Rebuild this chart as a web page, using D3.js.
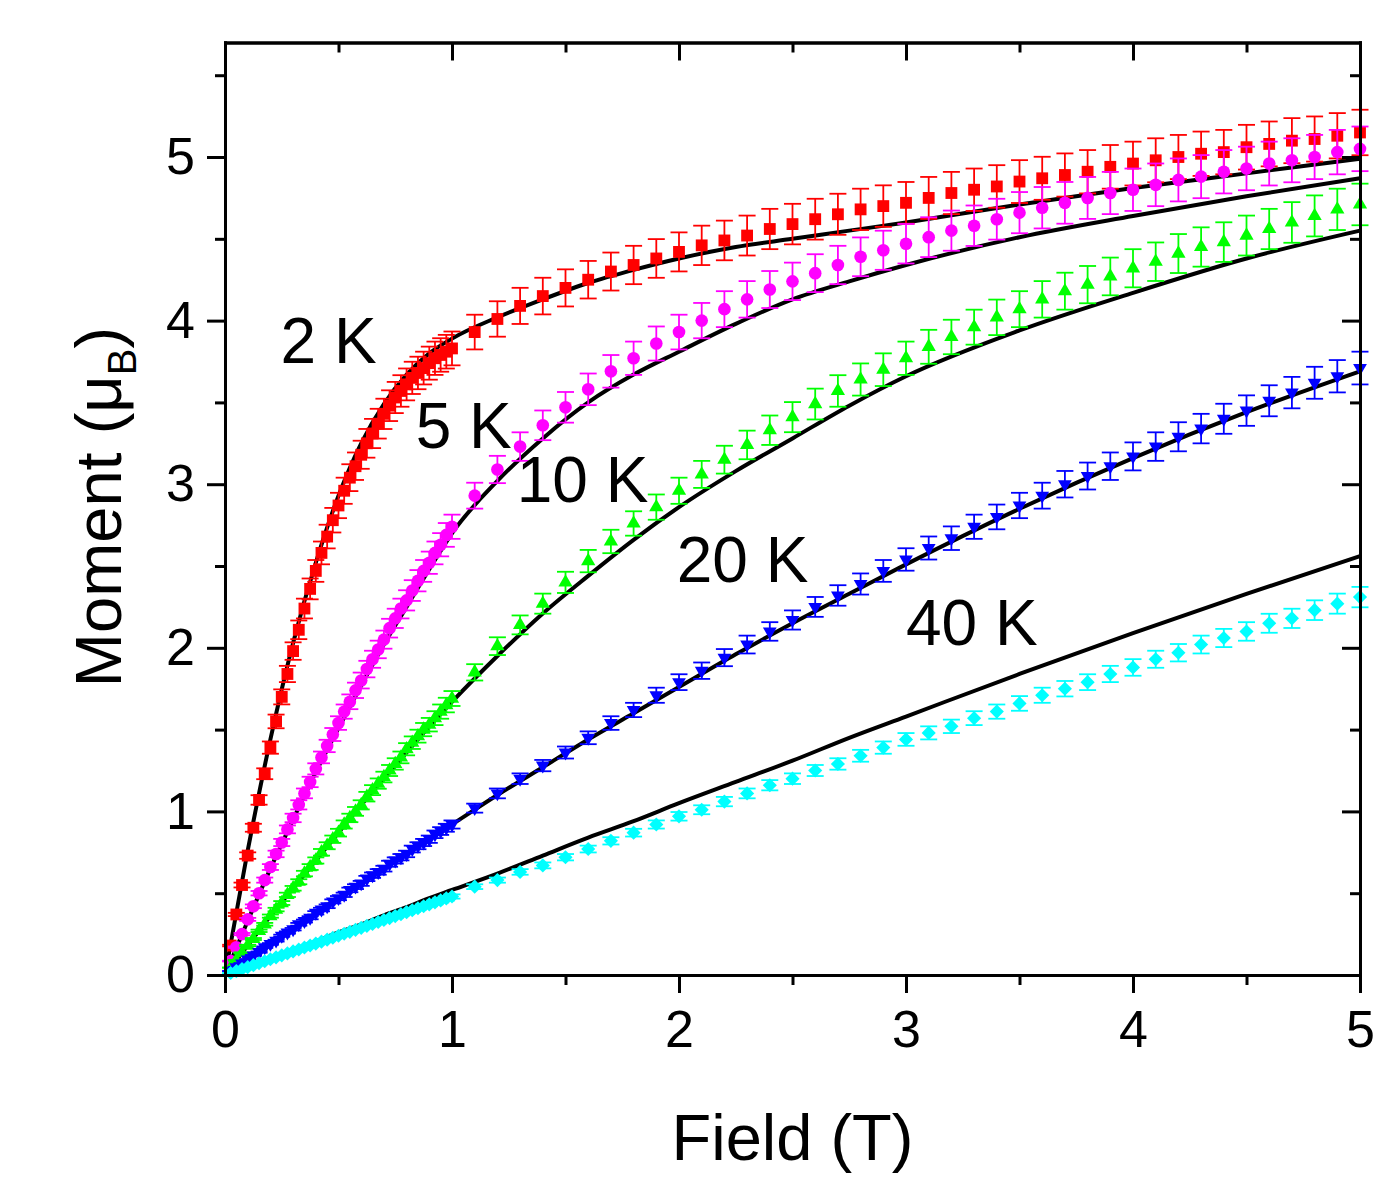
<!DOCTYPE html>
<html>
<head>
<meta charset="utf-8">
<script src="https://cdn.jsdelivr.net/npm/d3@7"></script>
<style>
  body { margin: 0; background: #fff; }
  text { font-family: "Liberation Sans", Arial, sans-serif; }
</style>
</head>
<body>
<div id="chart"></div>
<script>
// M(H) curves at several temperatures, data with error bars + black fit lines

// measured field points (T)
const field = [
  0.025, 0.05, 0.075, 0.1, 0.125, 0.15, 0.175, 0.2, 0.225, 0.25,
  0.275, 0.3, 0.325, 0.35, 0.375, 0.4, 0.425, 0.45, 0.475, 0.5,
  0.525, 0.55, 0.575, 0.6, 0.625, 0.65, 0.675, 0.7, 0.725, 0.75,
  0.775, 0.8, 0.825, 0.85, 0.875, 0.9, 0.925, 0.95, 0.975, 1.0,
  1.1, 1.2, 1.3, 1.4, 1.5, 1.6, 1.7, 1.8, 1.9, 2.0,
  2.1, 2.2, 2.3, 2.4, 2.5, 2.6, 2.7, 2.8, 2.9, 3.0,
  3.1, 3.2, 3.3, 3.4, 3.5, 3.6, 3.7, 3.8, 3.9, 4.0,
  4.1, 4.2, 4.3, 4.4, 4.5, 4.6, 4.7, 4.8, 4.9, 5.0
];

// moments (muB)
const m2K = [
  0.18, 0.37, 0.55, 0.73, 0.90, 1.07, 1.23, 1.39, 1.55, 1.70,
  1.84, 1.98, 2.11, 2.24, 2.36, 2.47, 2.58, 2.68, 2.78, 2.87,
  2.96, 3.04, 3.11, 3.18, 3.25, 3.31, 3.37, 3.43, 3.48, 3.53,
  3.57, 3.61, 3.65, 3.68, 3.71, 3.74, 3.77, 3.79, 3.81, 3.83,
  3.93, 4.01, 4.09, 4.15, 4.20, 4.25, 4.30, 4.34, 4.38, 4.42,
  4.46, 4.49, 4.52, 4.56, 4.59, 4.62, 4.65, 4.68, 4.70, 4.72,
  4.75, 4.78, 4.80, 4.82, 4.85, 4.87, 4.89, 4.91, 4.94, 4.96,
  4.98, 5.00, 5.02, 5.03, 5.06, 5.08, 5.10, 5.11, 5.13, 5.15
];
const m5K = [
  0.085, 0.17, 0.25, 0.34, 0.42, 0.50, 0.58, 0.66, 0.74, 0.81,
  0.89, 0.96, 1.04, 1.11, 1.18, 1.26, 1.33, 1.40, 1.47, 1.54,
  1.61, 1.67, 1.74, 1.80, 1.87, 1.93, 1.99, 2.05, 2.12, 2.18,
  2.24, 2.29, 2.35, 2.41, 2.47, 2.52, 2.58, 2.63, 2.69, 2.74,
  2.93, 3.09, 3.23, 3.36, 3.47, 3.58, 3.69, 3.77, 3.86, 3.93,
  4.00, 4.07, 4.13, 4.19, 4.24, 4.29, 4.34, 4.39, 4.43, 4.47,
  4.51, 4.55, 4.58, 4.62, 4.66, 4.69, 4.72, 4.75, 4.78, 4.80,
  4.83, 4.86, 4.88, 4.91, 4.93, 4.96, 4.98, 5.00, 5.03, 5.05
];
const m10K = [
  0.045, 0.09, 0.135, 0.18, 0.22, 0.27, 0.31, 0.36, 0.40, 0.44,
  0.49, 0.53, 0.57, 0.62, 0.66, 0.70, 0.75, 0.79, 0.83, 0.87,
  0.92, 0.96, 1.00, 1.04, 1.09, 1.13, 1.17, 1.21, 1.25, 1.29,
  1.33, 1.38, 1.42, 1.46, 1.50, 1.53, 1.57, 1.61, 1.65, 1.69,
  1.85, 2.01, 2.14, 2.27, 2.40, 2.53, 2.65, 2.76, 2.86, 2.96,
  3.06, 3.15, 3.24, 3.33, 3.41, 3.49, 3.57, 3.64, 3.70, 3.77,
  3.84, 3.90, 3.96, 4.02, 4.07, 4.13, 4.18, 4.22, 4.27, 4.32,
  4.36, 4.41, 4.45, 4.48, 4.52, 4.56, 4.60, 4.64, 4.68, 4.71
];
const m20K = [
  0.024, 0.048, 0.071, 0.095, 0.12, 0.14, 0.17, 0.19, 0.21, 0.24,
  0.26, 0.28, 0.31, 0.33, 0.35, 0.38, 0.40, 0.42, 0.45, 0.47,
  0.49, 0.52, 0.54, 0.56, 0.59, 0.61, 0.63, 0.65, 0.68, 0.70,
  0.72, 0.74, 0.77, 0.79, 0.81, 0.83, 0.86, 0.88, 0.90, 0.92,
  1.02, 1.11, 1.20, 1.28, 1.36, 1.45, 1.54, 1.62, 1.71, 1.79,
  1.86, 1.94, 2.02, 2.10, 2.17, 2.25, 2.32, 2.39, 2.47, 2.54,
  2.61, 2.67, 2.74, 2.80, 2.87, 2.93, 3.00, 3.05, 3.11, 3.17,
  3.23, 3.29, 3.34, 3.40, 3.45, 3.51, 3.56, 3.62, 3.66, 3.71
];
const m40K = [
  0.012, 0.024, 0.036, 0.048, 0.06, 0.072, 0.084, 0.096, 0.108, 0.12,
  0.132, 0.144, 0.156, 0.168, 0.18, 0.192, 0.204, 0.216, 0.228, 0.24,
  0.252, 0.264, 0.276, 0.288, 0.30, 0.312, 0.324, 0.336, 0.348, 0.36,
  0.372, 0.384, 0.396, 0.408, 0.42, 0.432, 0.444, 0.456, 0.468, 0.48,
  0.54, 0.58, 0.63, 0.67, 0.72, 0.77, 0.82, 0.87, 0.92, 0.97,
  1.01, 1.06, 1.11, 1.16, 1.20, 1.25, 1.29, 1.34, 1.39, 1.44,
  1.48, 1.52, 1.57, 1.61, 1.66, 1.71, 1.75, 1.79, 1.84, 1.88,
  1.93, 1.97, 2.02, 2.06, 2.10, 2.15, 2.18, 2.23, 2.27, 2.31
];
// error bars are ~2.7 % of the moment for every curve
const relErr = 0.027;

// fit curves
const fitField = [0, 0.1, 0.2, 0.3, 0.4, 0.5, 0.6, 0.7, 0.8, 0.9, 1.0,
  1.2, 1.4, 1.6, 1.8, 2.0, 2.25, 2.5, 2.75, 3.0, 3.5, 4.0, 4.5, 5.0];
const fit2K = [0, 0.76, 1.44, 2.03, 2.52, 2.93, 3.25, 3.49, 3.67, 3.80, 3.89,
  4.02, 4.13, 4.23, 4.31, 4.38, 4.45, 4.50, 4.55, 4.60, 4.71, 4.81, 4.90, 4.99];
const fit5K = [0, 0.33, 0.65, 0.95, 1.24, 1.51, 1.77, 2.02, 2.25, 2.48, 2.70,
  3.02, 3.28, 3.50, 3.67, 3.81, 3.98, 4.13, 4.24, 4.34, 4.51, 4.64, 4.76, 4.87];
const fit10K = [0, 0.18, 0.36, 0.53, 0.70, 0.87, 1.04, 1.20, 1.36, 1.52, 1.67,
  1.95, 2.21, 2.44, 2.66, 2.86, 3.08, 3.28, 3.48, 3.66, 3.94, 4.17, 4.38, 4.55];
const fit20K = [0, 0.095, 0.19, 0.28, 0.38, 0.47, 0.56, 0.65, 0.74, 0.83, 0.92,
  1.10, 1.27, 1.44, 1.60, 1.76, 1.96, 2.15, 2.33, 2.51, 2.85, 3.16, 3.44, 3.69];
const fit40K = [0, 0.05, 0.10, 0.155, 0.205, 0.26, 0.31, 0.365, 0.415, 0.47, 0.52,
  0.62, 0.73, 0.84, 0.94, 1.05, 1.18, 1.31, 1.45, 1.58, 1.84, 2.09, 2.33, 2.56];

const tempLabels = ["2 K", "5 K", "10 K", "20 K", "40 K"];
const xMajor = [0, 1, 2, 3, 4, 5];
const xMinor = [0.5, 1.5, 2.5, 3.5, 4.5];
const yMajor = [0, 1, 2, 3, 4, 5];
const yMinor = [0.5, 1.5, 2.5, 3.5, 4.5, 5.5];

// layout
const width = 1388, height = 1186;
const plot = { left: 225, right: 1360, top: 42.5, bottom: 975 };
const majorLen = 18, minorLen = 10;
const capHalf = 8.5;
const fontFam = "'Liberation Sans', Arial, sans-serif";

// styling per series: colour + marker
const seriesStyle = [
  { color: "#ff0000", symbol: d3.symbolSquare, size: 140, rot: 0 },
  { color: "#ff00ff", symbol: d3.symbolCircle, size: 125, rot: 0 },
  { color: "#00ff00", symbol: d3.symbolTriangle, size: 88, rot: 0 },
  { color: "#0000ff", symbol: d3.symbolTriangle, size: 82, rot: 180 },
  { color: "#00ffff", symbol: d3.symbolSquare, size: 100, rot: 45 }
];
// where the temperature labels sit, in data units (field, moment) of the baseline start
const labelAnchor = [[0.245, 3.74], [0.84, 3.22], [1.285, 2.89], [1.99, 2.40], [3.0, 2.02]];

const moments = [m2K, m5K, m10K, m20K, m40K];
const fits = [fit2K, fit5K, fit10K, fit20K, fit40K];

const x = d3.scaleLinear().domain([0, 5]).range([plot.left, plot.right]);
const y = d3.scaleLinear().domain([0, 5.7]).range([plot.bottom, plot.top]);

const svg = d3.select("#chart").append("svg")
    .attr("width", width)
    .attr("height", height)
    .style("display", "block");

svg.append("rect").attr("width", width).attr("height", height).attr("fill", "#fff");

// fit lines go underneath the data
const line = d3.line()
    .x(d => x(d[0]))
    .y(d => y(d[1]))
    .curve(d3.curveMonotoneX);

svg.append("g").attr("class", "fits")
    .selectAll("path")
    .data(fits)
    .enter()
    .append("path")
    .attr("d", f => line(fitField.map((h, i) => [h, f[i]])))
    .attr("fill", "none")
    .attr("stroke", "black")
    .attr("stroke-width", 4);

// data: error bars then markers
moments.forEach((vals, s) => {
    const st = seriesStyle[s];
    const pts = field.map((h, i) => ({ h: h, m: vals[i], e: vals[i] * relErr }));
    const g = svg.append("g").attr("class", "series-" + s);

    const bars = g.selectAll(".err")
        .data(pts)
        .enter()
        .append("g")
        .attr("class", "err")
        .attr("stroke", st.color)
        .attr("stroke-width", 1.8);
    bars.append("line")
        .attr("x1", d => x(d.h)).attr("x2", d => x(d.h))
        .attr("y1", d => y(d.m - d.e)).attr("y2", d => y(d.m + d.e));
    bars.append("line")
        .attr("x1", d => x(d.h) - capHalf).attr("x2", d => x(d.h) + capHalf)
        .attr("y1", d => y(d.m + d.e)).attr("y2", d => y(d.m + d.e));
    bars.append("line")
        .attr("x1", d => x(d.h) - capHalf).attr("x2", d => x(d.h) + capHalf)
        .attr("y1", d => y(d.m - d.e)).attr("y2", d => y(d.m - d.e));

    const sym = d3.symbol().type(st.symbol).size(st.size);
    g.selectAll(".pt")
        .data(pts)
        .enter()
        .append("path")
        .attr("class", "pt")
        .attr("d", sym)
        .attr("transform", d => `translate(${x(d.h)},${y(d.m)}) rotate(${st.rot})`)
        .attr("fill", st.color);
});

// axes: left/bottom ticks outward, top/right ticks inward
function styleAxis(g) {
    g.select(".domain").attr("stroke-width", 3).attr("stroke-linecap", "square");
    g.selectAll(".tick line").attr("stroke-width", 3);
    g.selectAll("text")
        .attr("font-size", 52)
        .attr("font-family", fontFam)
        .attr("fill", "black");
}

svg.append("g")
    .attr("transform", `translate(0,${plot.bottom})`)
    .call(d3.axisBottom(x).tickValues(xMajor).tickSize(majorLen).tickSizeOuter(0).tickPadding(17).tickFormat(d3.format("d")))
    .call(styleAxis);
svg.append("g")
    .attr("transform", `translate(0,${plot.bottom})`)
    .call(d3.axisBottom(x).tickValues(xMinor).tickSize(minorLen).tickSizeOuter(0).tickFormat(""))
    .call(styleAxis);

svg.append("g")
    .attr("transform", `translate(${plot.left},0)`)
    .call(d3.axisLeft(y).tickValues(yMajor).tickSize(majorLen).tickSizeOuter(0).tickPadding(12).tickFormat(d3.format("d")))
    .call(styleAxis);
svg.append("g")
    .attr("transform", `translate(${plot.left},0)`)
    .call(d3.axisLeft(y).tickValues(yMinor).tickSize(minorLen).tickSizeOuter(0).tickFormat(""))
    .call(styleAxis);

svg.append("g")
    .attr("transform", `translate(0,${plot.top})`)
    .call(d3.axisTop(x).tickValues(xMajor).tickSize(-majorLen).tickSizeOuter(0).tickFormat(""))
    .call(styleAxis);
svg.append("g")
    .attr("transform", `translate(0,${plot.top})`)
    .call(d3.axisTop(x).tickValues(xMinor).tickSize(-minorLen).tickSizeOuter(0).tickFormat(""))
    .call(styleAxis);

svg.append("g")
    .attr("transform", `translate(${plot.right},0)`)
    .call(d3.axisRight(y).tickValues(yMajor).tickSize(-majorLen).tickSizeOuter(0).tickFormat(""))
    .call(styleAxis);
svg.append("g")
    .attr("transform", `translate(${plot.right},0)`)
    .call(d3.axisRight(y).tickValues(yMinor).tickSize(-minorLen).tickSizeOuter(0).tickFormat(""))
    .call(styleAxis);

// axis titles
svg.append("text")
    .attr("x", (plot.left + plot.right) / 2)
    .attr("y", 1160)
    .attr("text-anchor", "middle")
    .attr("font-size", 65)
    .attr("font-family", fontFam)
    .text("Field (T)");

const yTitle = svg.append("text")
    .attr("transform", "translate(121,507) rotate(-90)")
    .attr("text-anchor", "middle")
    .attr("font-size", 65)
    .attr("font-family", fontFam);
yTitle.append("tspan").text("Moment (\u03bc");
yTitle.append("tspan").attr("font-size", 40).attr("dy", 15).text("B");
yTitle.append("tspan").attr("dy", -15).text(")");

// temperature labels
svg.selectAll(".temp-label")
    .data(tempLabels)
    .enter()
    .append("text")
    .attr("class", "temp-label")
    .attr("x", (d, i) => x(labelAnchor[i][0]))
    .attr("y", (d, i) => y(labelAnchor[i][1]))
    .attr("font-size", 64)
    .attr("font-family", fontFam)
    .text(d => d);
</script>
</body>
</html>
